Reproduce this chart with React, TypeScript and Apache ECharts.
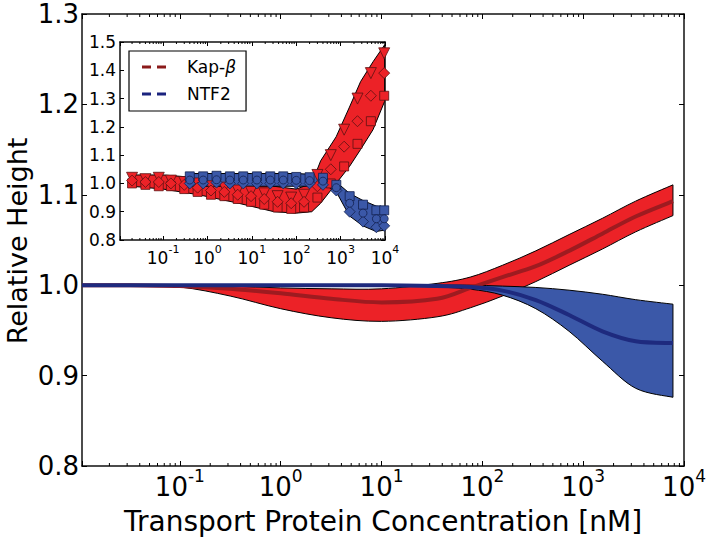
import React, { useEffect, useRef } from 'react';
import * as echarts from 'echarts';

const FONT = "'DejaVu Sans', sans-serif";

// ---------- Main panel (model fits) ----------
const mainConc = [0.0107, 0.0316, 0.1, 0.316, 1, 3.16, 10, 35.5, 75.9, 158, 339, 724, 1549, 3311, 7762];
const kapMean = [1.0, 1.0, 0.999, 0.996, 0.991, 0.985, 0.981, 0.985, 0.997, 1.009, 1.021, 1.038, 1.057, 1.076, 1.093];
const kapUpper = [1.0, 1.0, 1.0, 0.999, 0.997, 0.996, 0.996, 1.002, 1.009, 1.022, 1.038, 1.056, 1.074, 1.093, 1.111];
const kapLower = [1.0, 1.0, 0.998, 0.988, 0.974, 0.964, 0.96, 0.965, 0.975, 0.988, 1.004, 1.022, 1.04, 1.059, 1.077];
const ntfMean = [1.0, 1.0, 1.0, 1.0, 1.0, 1.0, 1.0, 0.999, 0.998, 0.994, 0.9835, 0.967, 0.949, 0.938, 0.936];
const ntfUpper = [1.0, 1.0, 1.0, 1.0, 1.0, 1.0, 1.0, 1.0, 1.0, 0.999, 0.9975, 0.9945, 0.99, 0.984, 0.979];
const ntfLower = [1.0, 1.0, 1.0, 1.0, 1.0, 1.0, 1.0, 0.998, 0.9956, 0.989, 0.974, 0.949, 0.916, 0.886, 0.876];

// ---------- Inset (experimental data) ----------
const kapBandConc = [0.02, 0.1, 0.63, 5, 31.6, 100, 224, 355, 794, 1585, 2818, 5370, 9800];
const kapBandUpper = [1.03, 1.03, 1.02, 1.0, 0.99, 0.98, 1.0, 1.08, 1.165, 1.27, 1.36, 1.43, 1.49];
const kapBandLower = [0.99, 0.98, 0.96, 0.93, 0.9, 0.895, 0.9, 0.93, 1.0, 1.06, 1.12, 1.19, 1.29];
const ntfBandConc = [0.4, 10, 100, 400, 560, 800, 1585, 3162, 6310, 9800];
const ntfBandUpper = [1.035, 1.035, 1.035, 1.03, 1.01, 1.005, 0.965, 0.94, 0.92, 0.915];
const ntfBandLower = [0.99, 0.99, 0.99, 0.99, 0.985, 0.97, 0.885, 0.85, 0.83, 0.835];

const kapPtConc = [0.02, 0.04, 0.08, 0.15, 0.3, 0.6, 1.2, 2.4, 4.8, 9.6, 19, 38, 77, 150, 300, 600, 1200, 2400, 4800, 9600];
const kapRunA = [1.02, 1.015, 1.02, 1.01, 1.005, 1.0, 0.99, 0.985, 0.975, 0.97, 0.965, 0.955, 0.95, 0.96, 1.03, 1.1, 1.19, 1.3, 1.39, 1.46];
const kapRunB = [1.0, 0.995, 0.99, 0.99, 0.98, 0.97, 0.96, 0.955, 0.945, 0.935, 0.925, 0.915, 0.91, 0.915, 0.95, 1.0, 1.06, 1.14, 1.22, 1.31];
const kapRunC = [1.01, 1.005, 1.005, 1.0, 0.995, 0.985, 0.975, 0.97, 0.96, 0.955, 0.945, 0.935, 0.93, 0.935, 0.99, 1.05, 1.13, 1.22, 1.31, 1.39];
const ntfPtConc = [0.4, 0.8, 1.6, 3.2, 6.4, 13, 26, 51, 100, 200, 400, 800, 1600, 3200, 6400, 9600];
const ntfRunA = [1.025, 1.025, 1.027, 1.025, 1.025, 1.025, 1.025, 1.025, 1.023, 1.022, 1.02, 0.995, 0.955, 0.925, 0.905, 0.905];
const ntfRunB = [1.0, 1.0, 1.003, 1.0, 1.0, 1.0, 1.0, 1.0, 1.0, 1.0, 0.995, 0.975, 0.9, 0.865, 0.845, 0.85];
const ntfRunC = [1.012, 1.012, 1.013, 1.012, 1.012, 1.012, 1.012, 1.012, 1.011, 1.01, 1.008, 0.985, 0.93, 0.895, 0.875, 0.875];

const legendNames = ['Kap-β', 'NTF2'];
const xTitle = 'Transport Protein Concentration [nM]';
const yTitle = 'Relative Height';

const X_MIN = 0.0107;
const X_MAX = 10000;
const MAIN_Y = [0.8, 1.3];
const INSET_Y = [0.8, 1.5];

const RED = '#ec2227';
const RED_DARK = '#9e1b20';
const BLUE = '#3b58a8';
const BLUE_DARK = '#1e2a7e';

const minorTicks: number[] = [];
for (let k = -2; k <= 3; k++) {
  for (let m = 2; m <= 9; m++) {
    const v = m * Math.pow(10, k);
    if (v > X_MIN && v < X_MAX) minorTicks.push(v);
  }
}

const pairs = (xs: number[], ys: number[]) => xs.map((x, i) => [x, ys[i]]);

function curveThrough(ctx: any, pts: number[][], smooth: boolean) {
  for (let i = 0; i < pts.length - 1; i++) {
    const p0 = pts[i - 1] || pts[i];
    const p1 = pts[i];
    const p2 = pts[i + 1];
    const p3 = pts[i + 2] || p2;
    if (!smooth) {
      ctx.lineTo(p2[0], p2[1]);
      continue;
    }
    ctx.bezierCurveTo(
      p1[0] + (p2[0] - p0[0]) / 6, p1[1] + (p2[1] - p0[1]) / 6,
      p2[0] - (p3[0] - p1[0]) / 6, p2[1] - (p3[1] - p1[1]) / 6,
      p2[0], p2[1],
    );
  }
}

let registered = false;
function registerShapes() {
  if (registered) return;
  registered = true;
  const BandShape = (echarts.graphic as any).extendShape({
    type: 'smoothBand',
    shape: { up: [], lo: [], smooth: true },
    buildPath(ctx: any, shape: any) {
      const up = shape.up as number[][];
      const lo = shape.lo as number[][];
      if (!up.length) return;
      ctx.moveTo(up[0][0], up[0][1]);
      curveThrough(ctx, up, shape.smooth);
      if (lo.length) {
        const rev = lo.slice().reverse();
        ctx.lineTo(rev[0][0], rev[0][1]);
        curveThrough(ctx, rev, shape.smooth);
        ctx.closePath();
      }
    },
  });
  (echarts.graphic as any).registerShape('smoothBand', BandShape);
}

function bandSeries(xs: number[], lo: number[], hi: number[], fill: string, ax: number, smooth: boolean) {
  return {
    type: 'custom', xAxisIndex: ax, yAxisIndex: ax, silent: true,
    data: [[xs[0], lo[0]]],
    renderItem: (_p: any, api: any) => ({
      type: 'smoothBand',
      shape: {
        up: xs.map((x, i) => api.coord([x, hi[i]])),
        lo: xs.map((x, i) => api.coord([x, lo[i]])),
        smooth,
      },
      style: { fill, stroke: '#000', lineWidth: 1 },
    }),
  };
}

function lineSeries(xs: number[], ys: number[], color: string, width: number, ax: number) {
  return {
    type: 'custom', xAxisIndex: ax, yAxisIndex: ax, silent: true,
    data: [[xs[0], ys[0]]],
    renderItem: (_p: any, api: any) => ({
      type: 'smoothBand',
      shape: { up: xs.map((x, i) => api.coord([x, ys[i]])), lo: [], smooth: true },
      style: { fill: 'none', stroke: color, lineWidth: width },
    }),
  };
}

function minorTickSeries(ax: number, yr: number[], len: number) {
  return {
    type: 'custom', xAxisIndex: ax, yAxisIndex: ax, silent: true, z: 10,
    data: minorTicks.map((v) => [v, yr[0]]),
    renderItem: (_p: any, api: any) => {
      const x = api.value(0);
      const b = api.coord([x, yr[0]]);
      const t = api.coord([x, yr[1]]);
      const st = { stroke: '#000', lineWidth: 1 };
      return {
        type: 'group',
        children: [
          { type: 'line', shape: { x1: b[0], y1: b[1], x2: b[0], y2: b[1] - len }, style: st },
          { type: 'line', shape: { x1: t[0], y1: t[1], x2: t[0], y2: t[1] + len }, style: st },
        ],
      };
    },
  };
}

function scatter(xs: number[], ys: number[], symbol: string, color: string, border: string, size: number, rotate = 0) {
  return {
    type: 'scatter', xAxisIndex: 1, yAxisIndex: 1, silent: true,
    data: pairs(xs, ys), symbol, symbolSize: size, symbolRotate: rotate,
    itemStyle: { color, borderColor: border, borderWidth: 0.8, opacity: 1 },
  };
}

const logLabel = (v: number) => {
  const l = Math.log10(v);
  const e = Math.round(l);
  if (Math.abs(l - e) > 1e-6) return '';
  return `{b|10}{s|${e}}`;
};

function xAxis(gridIndex: number, fs: number, ss: number, padB: number, padS: number, margin: number, major: number, showLabels: boolean, position: string) {
  return {
    type: 'log', gridIndex, position, min: X_MIN, max: X_MAX, logBase: 10,
    axisLine: { show: true, onZero: false, lineStyle: { color: '#111', width: 1.5 } },
    axisTick: { show: true, inside: true, length: major, lineStyle: { color: '#000', width: 1 } },
    minorTick: { show: false },
    splitLine: { show: false },
    axisLabel: showLabels
      ? {
          show: true, margin,
          formatter: logLabel,
          rich: {
            b: { fontFamily: FONT, fontSize: fs, lineHeight: fs, color: '#000', padding: [padB, 0, 0, 0] },
            s: { fontFamily: FONT, fontSize: ss, lineHeight: ss, color: '#000', padding: [0, 0, padS, 0] },
          },
        }
      : { show: false },
  };
}

function yAxis(gridIndex: number, yr: number[], fs: number, margin: number, major: number, showLabels: boolean, position: string) {
  return {
    type: 'value', gridIndex, position, min: yr[0], max: yr[1], interval: 0.1,
    axisLine: { show: true, onZero: false, lineStyle: { color: '#111', width: 1.5 } },
    axisTick: { show: true, inside: true, length: major, lineStyle: { color: '#000', width: 1 } },
    splitLine: { show: false },
    axisLabel: showLabels
      ? { show: true, margin, fontFamily: FONT, fontSize: fs, color: '#000', formatter: (v: number) => v.toFixed(1) }
      : { show: false },
  };
}

const DASH_ICON = 'path://M0,0 H9 V3 H0 Z M15,0 H24 V3 H15 Z';

export default function App() {
  const ref = useRef<HTMLDivElement>(null);
  useEffect(() => {
    if (!ref.current) return;
    registerShapes();
    const chart = echarts.init(ref.current, undefined, { renderer: 'svg' });
    const mainX: any = xAxis(0, 26, 17, 6.5, 15.5, 5, 5, true, 'bottom');
    mainX.name = xTitle;
    mainX.nameLocation = 'middle';
    mainX.nameGap = 41;
    mainX.nameTextStyle = { fontFamily: FONT, fontSize: 28, color: '#000' };
    const mainY: any = yAxis(0, MAIN_Y, 26, 3, 5, true, 'left');

    const option: any = {
      animation: false,
      backgroundColor: '#fff',
      textStyle: { fontFamily: FONT },
      grid: [
        { left: 82, right: 20, top: 14, bottom: 72 },
        { left: 120, top: 42, width: 265, height: 198 },
      ],
      xAxis: [
        mainX,
        xAxis(1, 17, 11, 5.5, 11.5, 6.25, 4, true, 'bottom'),
        xAxis(0, 26, 17, 0, 0, 0, 5, false, 'top'),
        xAxis(1, 17, 11, 0, 0, 0, 4, false, 'top'),
      ],
      yAxis: [
        mainY,
        yAxis(1, INSET_Y, 17, 4, 4, true, 'left'),
        yAxis(0, MAIN_Y, 26, 5, 5, false, 'right'),
        yAxis(1, INSET_Y, 17, 4, 4, false, 'right'),
      ],
      graphic: [
        {
          type: 'text', x: 17.5, y: 241, rotation: Math.PI / 2, silent: true,
          style: {
            text: yTitle, fontFamily: FONT, fontSize: 27, fill: '#000',
            textAlign: 'center', textVerticalAlign: 'middle', align: 'center', verticalAlign: 'middle',
          },
        },
      ],
      legend: {
        left: 129, top: 51, orient: 'vertical',
        data: legendNames.map((name) => ({ name, icon: DASH_ICON })),
        backgroundColor: '#fff', borderColor: '#000', borderWidth: 1.2, borderRadius: 0,
        padding: [7.5, 10, 8.5, 13], itemGap: 10, itemWidth: 24, itemHeight: 3,
        selectedMode: false,
        textStyle: {
          fontFamily: FONT, fontSize: 17, color: '#000', padding: [0, 0, 0, 16],
          rich: { i: { fontFamily: FONT, fontSize: 17, fontStyle: 'italic', color: '#000' } },
        },
        formatter: (n: string) => (n === 'Kap-β' ? 'Kap-{i|β}' : n),
      },
      series: [
        // main panel
        bandSeries(mainConc, kapLower, kapUpper, RED, 0, true),
        bandSeries(mainConc, ntfLower, ntfUpper, BLUE, 0, true),
        lineSeries(mainConc, kapMean, RED_DARK, 4, 0),
        lineSeries(mainConc, ntfMean, BLUE_DARK, 4, 0),
        minorTickSeries(0, MAIN_Y, 3),
        // inset
        bandSeries(kapBandConc, kapBandLower, kapBandUpper, RED, 1, false),
        scatter(kapPtConc, kapRunA, 'triangle', RED, '#5a1212', 11, 180),
        scatter(kapPtConc, kapRunB, 'rect', RED, '#5a1212', 9),
        scatter(kapPtConc, kapRunC, 'diamond', RED, '#5a1212', 11),
        bandSeries(ntfBandConc, ntfBandLower, ntfBandUpper, BLUE, 1, false),
        scatter(ntfPtConc, ntfRunA, 'rect', BLUE, '#13214f', 9),
        scatter(ntfPtConc, ntfRunB, 'diamond', BLUE, '#13214f', 11),
        scatter(ntfPtConc, ntfRunC, 'circle', BLUE, '#13214f', 8),
        minorTickSeries(1, INSET_Y, 2),
        // legend entries
        { type: 'line', name: legendNames[0], xAxisIndex: 1, yAxisIndex: 1, data: [], symbol: 'none', color: '#8b1a1a', itemStyle: { color: '#8b1a1a' }, lineStyle: { color: '#8b1a1a', width: 3 } },
        { type: 'line', name: legendNames[1], xAxisIndex: 1, yAxisIndex: 1, data: [], symbol: 'none', color: '#1a237e', itemStyle: { color: '#1a237e' }, lineStyle: { color: '#1a237e', width: 3 } },
      ],
    };
    chart.setOption(option);
    return () => chart.dispose();
  }, []);
  return <div ref={ref} style={{ position: 'absolute', left: 0, top: 0, width: 709, height: 540 }} />;
}
